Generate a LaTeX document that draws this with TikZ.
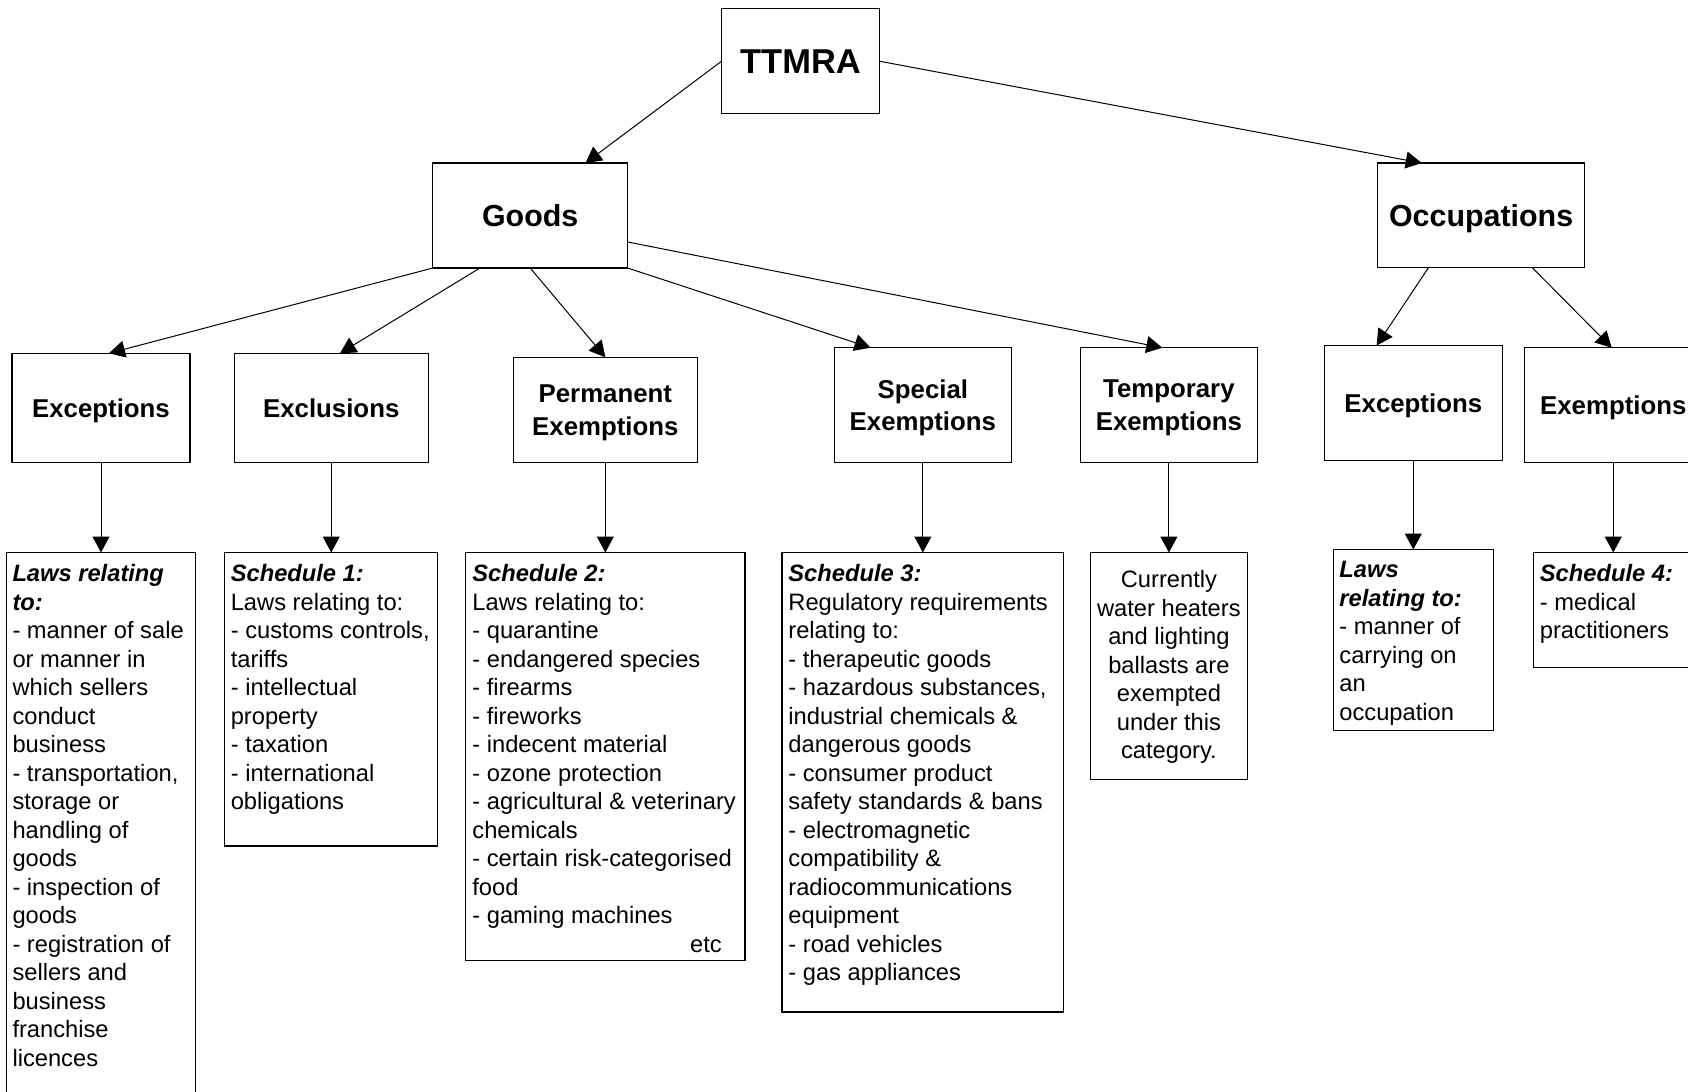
\documentclass[tikz,border=0pt]{standalone}
\usepackage{fontspec}
\setmainfont{Liberation Sans}
\usetikzlibrary{arrows.meta,calc}

% first-line strut: fixes the first baseline below the top of a list
\newcommand{\firstgap}[1]{\rule{0pt}{#1}}
\newcommand{\hd}[1]{\textbf{\textit{#1}}}

\begin{document}
\begin{tikzpicture}[x=0.5pt,y=-0.5pt,
  every node/.style={outer sep=0pt},
  headbox/.style={draw=black, line width=0.6pt, align=center, inner sep=0pt, text depth=0pt,
    font=\fontsize{12.9pt}{16.15pt}\selectfont\bfseries},
  bigbox/.style={headbox, font=\fontsize{15.2pt}{18pt}\selectfont\bfseries},
  topbox/.style={headbox, font=\fontsize{17.25pt}{20pt}\selectfont\bfseries},
  listbox/.style={draw=black, line width=0.6pt, anchor=north west, inner sep=0pt},
  listtext/.style={anchor=north west, align=left, inner sep=0pt,
    font=\fontsize{11.85pt}{14.25pt}\selectfont},
  link/.style={line width=0.5pt, -{Triangle[length=8pt,width=8.5pt]}},
]
\useasboundingbox (0,0) rectangle (1688,1092);
\fill[white] (0,0) rectangle (1688,1092);
\clip (0,0) rectangle (1688,1092);

% ---- top levels
\node[topbox, minimum width=78.9pt, minimum height=52.5pt] (ttmra) at (800.5,61.2) {TTMRA};
\node[bigbox, minimum width=97.35pt, minimum height=52.5pt] (goods) at (530.2,215.5) {Goods};
\node[bigbox, minimum width=103.75pt, minimum height=52.35pt] (occ) at (1481.1,215.4) {Occupations};

% ---- categories
\node[headbox, minimum width=89pt, minimum height=54.7pt] (excA) at (101,408) {Exceptions};
\node[headbox, minimum width=96.95pt, minimum height=54.7pt] (excl) at (331.25,408) {Exclusions};
\node[headbox, minimum width=92.15pt, minimum height=52.7pt] (perm) at (605.35,410) {Permanent\\Exemptions};
\node[headbox, minimum width=88.35pt, minimum height=57.5pt] (spec) at (922.85,405.2) {Special\\Exemptions};
\node[headbox, minimum width=88.6pt, minimum height=57.5pt] (temp) at (1168.9,405.2) {Temporary\\Exemptions};
\node[headbox, minimum width=89pt, minimum height=57.4pt] (excB) at (1413.3,402.9) {Exceptions};
\node[headbox, minimum width=88.8pt, minimum height=57.4pt] (exm) at (1613.3,405.1) {Exemptions};

% ---- detail boxes
\node[listbox, minimum width=94.6pt, minimum height=278.75pt] (lawsA) at (6.5,552.5) {};
\node[listbox, minimum width=106.7pt, minimum height=146.75pt] (sch1) at (224.4,552.5) {};
\node[listbox, minimum width=139.55pt, minimum height=204pt] (sch2) at (465.8,552.5) {};
\node[listbox, minimum width=140.8pt, minimum height=229.75pt] (sch3) at (781.9,552.5) {};
\node[listbox, minimum width=78.7pt, minimum height=113.45pt] (curr) at (1090.2,552.5) {};
\node[listbox, minimum width=79.85pt, minimum height=90.35pt] (lawsB) at (1333.4,549.5) {};
\node[listbox, minimum width=80pt, minimum height=57.6pt] (sch4) at (1533.3,552.5) {};

% ---- texts of the detail boxes
\node[listtext] (lawsAtxt) at ([xshift=3pt]lawsA.north west) {\firstgap{14.5pt}\hd{Laws relating}\\
\hd{to:}\\
- manner of sale\\
or manner in\\
which sellers\\
conduct\\
business\\
- transportation,\\
storage or\\
handling of\\
goods\\
- inspection of\\
goods\\
- registration of\\
sellers and\\
business\\
franchise\\
licences};

\node[listtext] (sch1txt) at ([xshift=3.2pt]sch1.north west) {\firstgap{14.5pt}\hd{Schedule 1:}\\
Laws relating to:\\
- customs controls,\\
tariffs\\
- intellectual\\
property\\
- taxation\\
- international\\
obligations};

\node[listtext] (sch2txt) at ([xshift=3.3pt]sch2.north west) {\firstgap{14.5pt}\hd{Schedule 2:}\\
Laws relating to:\\
- quarantine\\
- endangered species\\
- firearms\\
- fireworks\\
- indecent material\\
- ozone protection\\
- agricultural \& veterinary\\
chemicals\\
- certain risk-categorised\\
food\\
- gaming machines\\
\hspace*{108.9pt}etc};

\node[listtext] (sch3txt) at ([xshift=3.25pt]sch3.north west) {\firstgap{14.5pt}\hd{Schedule 3:}\\
Regulatory requirements\\
relating to:\\
- therapeutic goods\\
- hazardous substances,\\
industrial chemicals \&\\
dangerous goods\\
- consumer product\\
safety standards \& bans\\
- electromagnetic\\
compatibility \&\\
radiocommunications\\
equipment\\
- road vehicles\\
- gas appliances};

\node[listtext, anchor=north, align=center] (currtxt) at (curr.north) {\firstgap{17.5pt}Currently\\
water heaters\\
and lighting\\
ballasts are\\
exempted\\
under this\\
category.};

\node[listtext] (lawsBtxt) at ([xshift=3pt]lawsB.north west) {\firstgap{14pt}\hd{Laws}\\
\hd{relating to:}\\
- manner of\\
carrying on\\
an\\
occupation};

\node[listtext] (sch4txt) at ([xshift=3.3pt]sch4.north west) {\firstgap{14.5pt}\hd{Schedule 4:}\\
- medical\\
practitioners};

% ---- connectors
\draw[link] (ttmra.west) -- ($(goods.north west)!0.784!(goods.north east)$);
\draw[link] (ttmra.east) -- ($(occ.north west)!0.214!(occ.north east)$);

\draw[link] (goods.south west) -- ($(excA.north west)!0.545!(excA.north east)$);
\draw[link] ($(goods.south west)!0.242!(goods.south east)$) -- ($(excl.north west)!0.545!(excl.north east)$);
\draw[link] (goods.south) -- (perm.north);
\draw[link] (goods.south east) -- ($(spec.north west)!0.204!(spec.north east)$);
\draw[link] ($(goods.north east)!0.752!(goods.south east)$) -- ($(temp.north west)!0.463!(temp.north east)$);

\draw[link] ($(occ.south west)!0.246!(occ.south east)$) -- ($(excB.north west)!0.294!(excB.north east)$);
\draw[link] ($(occ.south west)!0.747!(occ.south east)$) -- ($(exm.north west)!0.491!(exm.north east)$);

\draw[link] (excA.south) -- (excA.south |- lawsA.north);
\draw[link] (excl.south) -- (excl.south |- sch1.north);
\draw[link] (perm.south) -- (perm.south |- sch2.north);
\draw[link] (spec.south) -- (spec.south |- sch3.north);
\draw[link] (temp.south) -- (temp.south |- curr.north);
\draw[link] (excB.south) -- (excB.south |- lawsB.north);
\draw[link] (exm.south) -- (exm.south |- sch4.north);
\end{tikzpicture}
\end{document}
